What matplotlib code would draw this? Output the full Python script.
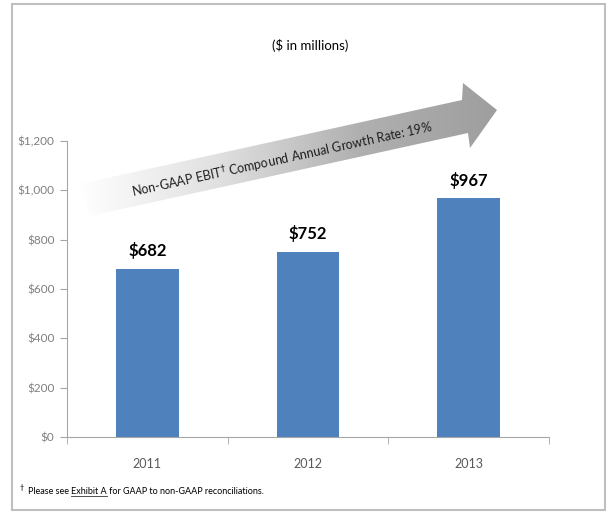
import matplotlib.pyplot as plt
import numpy as np
from matplotlib.patches import Polygon, Rectangle
from matplotlib.ticker import FixedLocator
from matplotlib.colors import LinearSegmentedColormap

plt.rcParams['font.family'] = ['Lato', 'DejaVu Sans']

# Данные
years = ['2011', '2012', '2013']
ebit = [682, 752, 967]
labels = ['$682', '$752', '$967']
yticks = [0, 200, 400, 600, 800, 1000, 1200]

W, H = 607, 513
fig = plt.figure(figsize=(W / 100, H / 100), dpi=100)

def box(x0, y0, x1, y1):
    # пиксели (сверху вниз) -> доли полотна
    return [x0 / W, 1 - y1 / H, (x1 - x0) / W, (y1 - y0) / H]

ax = fig.add_axes(box(67, 141, 549, 437))
x = np.arange(len(years))
ax.bar(x, ebit, width=0.39, color='#4f81bd')
ax.set_xlim(-0.5, len(years) - 0.5)
ax.set_ylim(0, 1200)
ax.set_yticks(yticks)
ax.set_yticklabels(['$0' if v == 0 else '${:,}'.format(v) for v in yticks])
ax.set_xticks(x)
ax.set_xticklabels(years)
ax.xaxis.set_minor_locator(FixedLocator(np.arange(len(years) + 1) - 0.5))
ax.tick_params(axis='x', which='major', length=0, pad=15, labelsize=9, labelcolor='#595959')
ax.tick_params(axis='x', which='minor', length=5, color='#a6a6a6')
ax.tick_params(axis='y', length=5, color='#a6a6a6', labelsize=8.5, labelcolor='#7f7f7f', pad=4)
for s in ['top', 'right']:
    ax.spines[s].set_visible(False)
for s in ['left', 'bottom']:
    ax.spines[s].set_color('#a6a6a6')
for xi, v, t in zip(x, ebit, labels):
    ax.annotate(t, (xi, v), xytext=(0, 7), textcoords='offset points',
                ha='center', va='bottom', fontsize=12, fontweight='bold')

# Оверлей в пикселях
ov = fig.add_axes([0, 0, 1, 1], zorder=-1)
ov.set_xlim(0, W)
ov.set_ylim(H, 0)
ov.axis('off')
ov.add_patch(Rectangle((12, 4), 593, 506, fill=False, ec='#bfbfbf', lw=1.5))

top = fig.add_axes([0, 0, 1, 1], zorder=5)
top.set_xlim(0, W)
top.set_ylim(H, 0)
top.axis('off')

# Стрелка с градиентом
pts = [(80, 184), (462, 100), (463, 83), (497, 110), (470, 148), (468, 133), (90, 216)]
arrow = Polygon(pts, closed=True, fc='none', ec='none')
top.add_patch(arrow)
cmap = LinearSegmentedColormap.from_list('g', ['#ffffff', '#e0e0e0', '#b0b0b0', '#9e9e9e'])
grad = np.linspace(0, 1, 256).reshape(1, -1)
img = top.imshow(grad, extent=[78, 500, 220, 80], cmap=cmap, aspect='auto', zorder=1)
img.set_clip_path(arrow)
top.set_xlim(0, W)
top.set_ylim(H, 0)
top.text(282, 160, 'Non-GAAP EBIT$^\u2020$ Compound Annual Growth Rate: 19%',
         rotation=12.3, rotation_mode='anchor', ha='center', va='center',
         fontsize=9, color='#1f1f1f', zorder=3)

top.text(310, 45, '($ in millions)', ha='center', va='center', fontsize=9.5)

# Сноска
r = fig.canvas.get_renderer()
t1 = top.text(20, 491, '\u2020', fontsize=5, va='bottom')
t2 = top.text(28, 494, 'Please see ', fontsize=6.5, va='baseline')
bb = t2.get_window_extent(r)
x2 = top.transData.inverted().transform((bb.x1, 0))[0]
t3 = top.text(x2, 494, 'Exhibit A', fontsize=6.5, va='baseline')
bb3 = t3.get_window_extent(r)
x3 = top.transData.inverted().transform((bb3.x1, 0))[0]
top.plot([x2, x3], [496, 496], color='#333333', lw=0.6)
top.text(x3, 494, ' for GAAP to non-GAAP reconciliations.', fontsize=6.5, va='baseline')

fig.savefig('out.png', dpi=100)
